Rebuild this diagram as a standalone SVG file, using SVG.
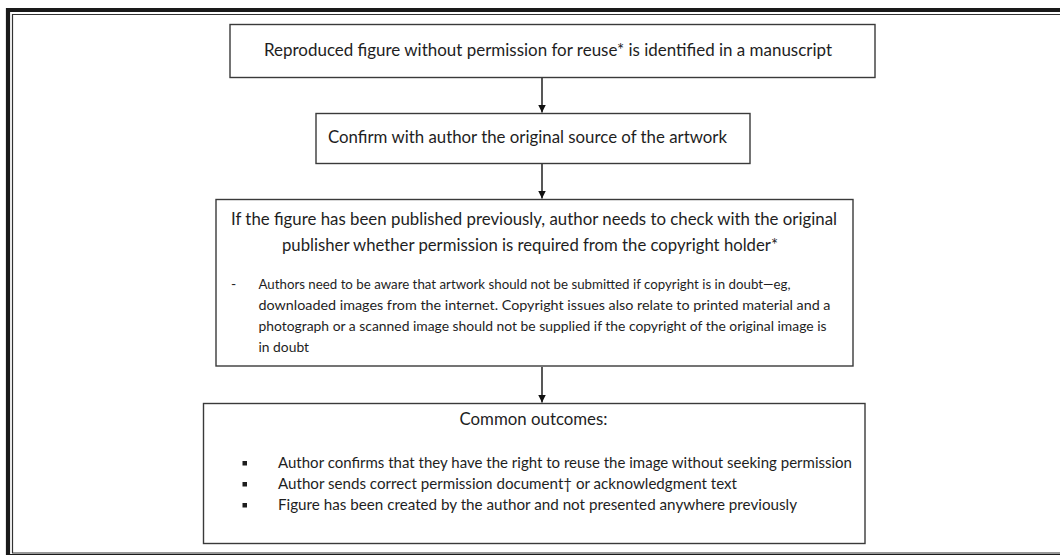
<svg xmlns="http://www.w3.org/2000/svg" width="1060" height="555" viewBox="0 0 1060 555">
<style>
.box{fill:#fff;stroke:#3a3a3a;stroke-width:1.4}
.t{font-family:Lato,"Liberation Sans",sans-serif;fill:#1e1e1e}
.big{font-size:18px}
.med{font-size:16px}
.sm{font-size:14px}
.conn{stroke:#111;stroke-width:1.4;fill:none}
</style>
<defs>
<marker id="ah" viewBox="0 0 10 10" refX="10" refY="5" markerWidth="8" markerHeight="9" markerUnits="userSpaceOnUse" orient="auto">
<path d="M0,0 L10,5 L0,10 Z" fill="#111"/>
</marker>
</defs>
<rect x="0" y="0" width="1060" height="555" fill="#fff"/>
<g id="frame">
<path d="M8,1062 L8,10 L1062,10" fill="none" stroke="#1a1a1a" stroke-width="4.2"/>
<path d="M12.5,553 L12.5,14.5 L1062,14.5" fill="none" stroke="#333" stroke-width="1.2"/>
<line x1="12" y1="553" x2="1062" y2="553" stroke="#333" stroke-width="1.2"/>
<line x1="6" y1="556" x2="1062" y2="556" stroke="#1a1a1a" stroke-width="4"/>
</g>
<g id="connectors">
<line class="conn" x1="542" y1="78" x2="542" y2="112.5" marker-end="url(#ah)"/>
<line class="conn" x1="542" y1="164" x2="542" y2="198.5" marker-end="url(#ah)"/>
<line class="conn" x1="542" y1="367" x2="542" y2="402.5" marker-end="url(#ah)"/>
</g>
<g id="node1">
<rect class="box" x="230" y="24.5" width="645" height="53"/>
<text class="t big" x="264" y="56" textLength="568" lengthAdjust="spacingAndGlyphs">Reproduced figure without permission for reuse* is identified in a manuscript</text>
</g>
<g id="node2">
<rect class="box" x="316" y="113.5" width="434" height="50"/>
<text class="t big" x="328" y="143" textLength="399" lengthAdjust="spacingAndGlyphs">Confirm with author the original source of the artwork</text>
</g>
<g id="node3">
<rect class="box" x="216" y="199.5" width="637" height="166.5"/>
<text class="t big" x="231" y="225" textLength="606" lengthAdjust="spacingAndGlyphs">If the figure has been published previously, author needs to check with the original</text>
<text class="t big" x="282" y="251" textLength="496" lengthAdjust="spacingAndGlyphs">publisher whether permission is required from the copyright holder*</text>
<text class="t sm" x="231" y="289">-</text>
<text class="t sm" x="258.5" y="289" textLength="532" lengthAdjust="spacingAndGlyphs">Authors need to be aware that artwork should not be submitted if copyright is in doubt—eg,</text>
<text class="t sm" x="258.5" y="310" textLength="572" lengthAdjust="spacingAndGlyphs">downloaded images from the internet. Copyright issues also relate to printed material and a</text>
<text class="t sm" x="258.5" y="331" textLength="568" lengthAdjust="spacingAndGlyphs">photograph or a scanned image should not be supplied if the copyright of the original image is</text>
<text class="t sm" x="258.5" y="352" textLength="50.5" lengthAdjust="spacingAndGlyphs">in doubt</text>
</g>
<g id="node4">
<rect class="box" x="203.5" y="403.5" width="661.5" height="140"/>
<text class="t" font-size="17" x="459.5" y="424.5" textLength="148" lengthAdjust="spacingAndGlyphs">Common outcomes:</text>
<rect x="242.5" y="461" width="4.5" height="4.5" fill="#1e1e1e"/>
<rect x="242.5" y="482" width="4.5" height="4.5" fill="#1e1e1e"/>
<rect x="242.5" y="503" width="4.5" height="4.5" fill="#1e1e1e"/>
<text class="t med" x="278" y="468" textLength="574" lengthAdjust="spacingAndGlyphs">Author confirms that they have the right to reuse the image without seeking permission</text>
<text class="t med" x="278" y="489" textLength="459" lengthAdjust="spacingAndGlyphs">Author sends correct permission document† or acknowledgment text</text>
<text class="t med" x="278" y="510" textLength="519" lengthAdjust="spacingAndGlyphs">Figure has been created by the author and not presented anywhere previously</text>
</g>
</svg>
